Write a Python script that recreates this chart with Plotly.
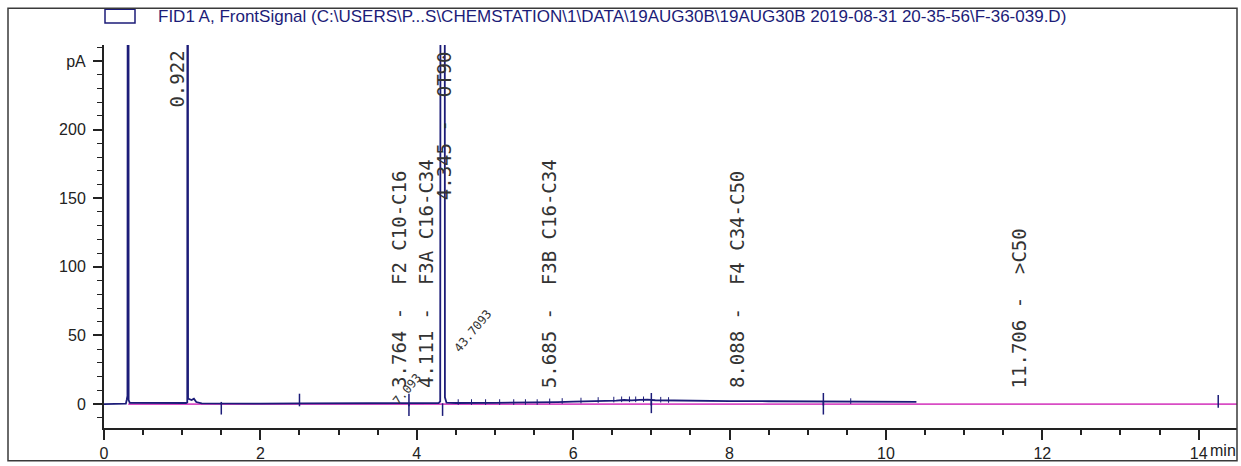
import plotly.graph_objects as go

# ---------------- data ----------------
time_min = [0.00, 0.28, 0.29, 0.30, 0.31, 0.315, 0.33, 0.60, 1.05, 1.065, 1.07, 1.075, 1.09,
            1.12, 1.15, 1.18, 1.25, 1.50, 2.00, 2.50, 3.00, 3.50, 3.90, 4.28, 4.30, 4.315,
            4.35, 4.36, 4.38, 4.50, 5.00, 5.50, 5.80, 6.00, 6.20, 6.40, 6.55, 6.65, 6.75,
            6.85, 6.95, 7.05, 7.30, 7.60, 8.00, 8.50, 9.00, 9.50, 10.00, 10.39]
signal_pA = [0.0, 0.3, 3.0, 6.0, 1200.0, 3.0, 1.0, 0.8, 0.8, 1.2, 900.0, 4.0, 3.5,
             3.0, 4.0, 1.5, 0.5, 0.3, 0.4, 0.5, 0.5, 0.6, 0.6, 0.8, 2.0, 1500.0,
             1500.0, 5.0, 1.0, 0.8, 0.9, 1.0, 1.5, 1.8, 2.0, 2.3, 2.6, 3.0, 2.7,
             3.1, 3.3, 2.8, 2.5, 2.3, 2.2, 2.1, 2.0, 1.9, 1.8, 1.6]

baseline_time = [0.31, 14.49]
baseline_pA = [0.0, 0.0]

event_time = [1.50, 2.50, 3.90, 3.90, 4.33, 7.00, 7.00, 9.20, 9.20, 14.25]
event_pA = [-3.0, 3.0, -4.0, 3.0, -4.0, 3.5, -2.0, 3.5, -3.0, 2.0]

slice_time = [4.53, 4.70, 4.88, 5.06, 5.24, 5.39, 5.54, 5.70, 5.86, 6.10, 6.32, 6.52,
              6.62, 6.72, 6.80, 6.90, 7.12, 7.22, 9.55]
slice_pA = [1.5, 1.5, 1.5, 1.5, 1.5, 1.5, 1.5, 2.0, 2.3, 2.6, 3.0, 3.3,
            3.5, 3.5, 3.5, 3.5, 3.2, 3.0, 2.2]

peak_rt = [0.922, 3.764, 4.111, 4.345, 5.685, 8.088, 11.706]
peak_label = ["0.922", "3.764 -  F2 C10-C16", "4.111 -  F3A C16-C34", "4.345 -  OT90",
              "5.685 -  F3B C16-C34", "8.088 -  F4 C34-C50", "11.706 -  >C50"]
offscale_labels = ["0.922", "4.345 -  OT90"]

area_text = ["43.7093", "7.093"]
area_time = [4.72, 3.88]
area_pA = [53.0, 11.0]

y_tickvals = [0, 50, 100, 150, 200, 250]
y_ticktext = ["0", "50", "100", "150", "200", "pA"]
x_tickvals = [0, 2, 4, 6, 8, 10, 12, 14]
x_ticktext = ["0", "2", "4", "6", "8", "10", "12", "14"]

legend_text = ("FID1 A, FrontSignal (C:\\USERS\\P...S\\CHEMSTATION\\1\\DATA\\19AUG30B\\19AUG30B "
               "2019-08-31 20-35-56\\F-36-039.D)")

# ---------------- style ----------------
NAVY = "#1c1c78"
MAGENTA = "#d84cc4"
LABEL_FONT = "DejaVu Sans Mono, Liberation Mono, monospace"
AXIS_FONT = "Liberation Sans Narrow, Arial Narrow, Liberation Sans, Arial, sans-serif"

X_RANGE = [0, 14.49]
Y_RANGE = [-17.4, 261.6]

fig = go.Figure()

fig.add_trace(go.Scatter(x=baseline_time, y=baseline_pA, mode="lines",
                         line=dict(color=MAGENTA, width=1.6), hoverinfo="skip",
                         showlegend=False))
fig.add_trace(go.Scatter(x=time_min, y=signal_pA, mode="lines",
                         line=dict(color=NAVY, width=1.8), showlegend=False))
fig.add_trace(go.Scatter(x=event_time, y=event_pA, mode="markers",
                         marker=dict(symbol="line-ns", size=9,
                                     line=dict(color=NAVY, width=1.5)),
                         showlegend=False, hoverinfo="skip"))
fig.add_trace(go.Scatter(x=slice_time, y=slice_pA, mode="markers",
                         marker=dict(symbol="line-ns", size=4,
                                     line=dict(color=NAVY, width=1)),
                         showlegend=False, hoverinfo="skip"))

for rt, lab in zip(peak_rt, peak_label):
    if lab in offscale_labels:
        fig.add_annotation(x=rt, y=1, xref="x", yref="paper", text=lab,
                           textangle=-90, showarrow=False, xanchor="center",
                           yanchor="top", yshift=-4,
                           font=dict(family=LABEL_FONT, size=19, color="#333333"))
    else:
        fig.add_annotation(x=rt, y=0, xref="x", yref="y", text=lab,
                           textangle=-90, showarrow=False, xanchor="center",
                           yanchor="bottom", yshift=14,
                           font=dict(family=LABEL_FONT, size=19, color="#333333"))

for t, a, txt in zip(area_time, area_pA, area_text):
    fig.add_annotation(x=t, y=a, text=txt, textangle=-50, showarrow=False,
                       font=dict(family=LABEL_FONT, size=12, color="#333333"))

# legend box + text
fig.add_shape(type="rect", xref="paper", yref="paper",
              x0=(105 - 104) / 1133, x1=(135 - 104) / 1133,
              y0=1 + (45 - 23) / 385, y1=1 + (45 - 9) / 385,
              line=dict(color=NAVY, width=1.5), fillcolor="white")
fig.add_annotation(xref="paper", yref="paper", x=(156 - 104) / 1133,
                   y=1 + (45 - 16) / 385, xanchor="left", yanchor="middle",
                   text=legend_text, showarrow=False,
                   font=dict(family=AXIS_FONT, size=17, color=NAVY))

# outer frame
fig.add_shape(type="rect", xref="paper", yref="paper",
              x0=(8 - 104) / 1133, x1=1.0, y0=-(463 - 430) / 385, y1=1 + (45 - 8) / 385,
              line=dict(color="#3a3a3a", width=1.5), fillcolor="rgba(0,0,0,0)")

# "min" unit label
fig.add_annotation(x=14, xref="x", y=0, yref="paper", text="min", showarrow=False,
                   xanchor="left", yanchor="middle", xshift=9, yshift=-22,
                   font=dict(family=AXIS_FONT, size=16, color="#222222"))

fig.update_layout(
    width=1241, height=466,
    margin=dict(l=104, r=4, t=45, b=36),
    plot_bgcolor="white", paper_bgcolor="white",
    xaxis=dict(range=X_RANGE, tickvals=x_tickvals, ticktext=x_ticktext,
               showgrid=False, zeroline=False, showline=True, linecolor="#222222",
               linewidth=2, ticks="outside", ticklen=10, tickwidth=2, tickcolor="#222222",
               minor=dict(tickvals=[v / 2 for v in range(0, 29)], ticks="outside",
                          ticklen=5, tickwidth=1.5, tickcolor="#222222"),
               tickfont=dict(family=AXIS_FONT, size=16, color="#222222")),
    yaxis=dict(range=Y_RANGE, tickvals=y_tickvals, ticktext=y_ticktext,
               showgrid=False, zeroline=False, showline=True, linecolor="#222222",
               linewidth=2, ticks="outside", ticklen=9, tickwidth=1.5, tickcolor="#222222",
               ticklabelstandoff=4,
               minor=dict(tickvals=list(range(-10, 261, 10)), ticks="outside",
                          ticklen=5, tickwidth=1.2, tickcolor="#222222"),
               tickfont=dict(family=AXIS_FONT, size=16, color="#222222")),
)

fig.write_html("out.html",
               config={"displayModeBar": False},
               post_script="document.body.style.margin='0px';"
                           "document.body.style.overflow='hidden';")
